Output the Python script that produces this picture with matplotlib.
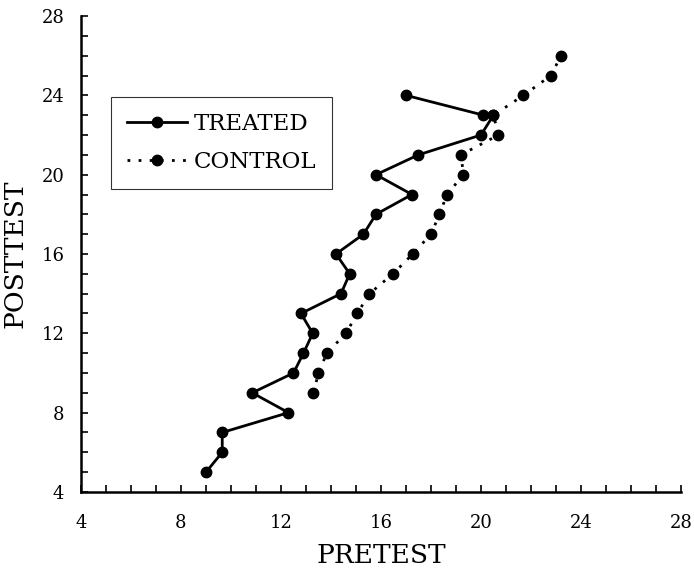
import numpy as np
import matplotlib.pyplot as plt
from matplotlib.ticker import MultipleLocator

# treated group: pretest vs posttest
treated_pre = [9.0, 9.65, 9.65, 12.3, 10.85, 12.5, 12.9, 13.27, 12.8, 14.4, 14.75,
               14.2, 15.3, 15.8, 17.24, 15.8, 17.5, 20.0, 20.5, 20.1, 17.0]
treated_post = [5, 6, 7, 8, 9, 10, 11, 12, 13, 14, 15,
                16, 17, 18, 19, 20, 21, 22, 23, 23, 24]

# control group
control_pre = [13.3, 13.5, 13.83, 14.6, 15.05, 15.54, 16.48, 17.27, 18.0, 18.34,
               18.64, 19.3, 19.2, 20.7, 20.5, 21.7, 22.8, 23.2]
control_post = [9, 10, 11, 12, 13, 14, 15, 16, 17, 18,
                19, 20, 21, 22, 23, 24, 25, 26]

ticks = [4, 8, 12, 16, 20, 24, 28]

plt.rcParams['font.family'] = 'DejaVu Serif'

fig = plt.figure(figsize=(6.94, 5.72), dpi=100)
ax = fig.add_axes([0.1167, 0.1399, 0.8645, 0.8321])

ax.plot(treated_pre, treated_post, color='black', lw=2, marker='o', ms=7.5,
        label='TREATED')
ax.plot(control_pre, control_post, color='black', lw=2, ls=(0, (1, 3)),
        marker='o', ms=7.5, label='CONTROL')

ax.set_xlim(4, 28)
ax.set_ylim(4, 28)
ax.set_xticks(ticks)
ax.set_yticks(ticks)
ax.xaxis.set_minor_locator(MultipleLocator(1))
ax.yaxis.set_minor_locator(MultipleLocator(1))
ax.tick_params(which='both', direction='in', length=5, width=1.2, labelsize=13,
               top=False, right=False)
ax.tick_params(axis='x', pad=16)
ax.tick_params(axis='y', pad=12)

for s in ['top', 'right']:
    ax.spines[s].set_visible(False)
for s in ['left', 'bottom']:
    ax.spines[s].set_linewidth(1.8)

ax.set_xlabel('PRETEST', fontsize=19, labelpad=8)
ax.set_ylabel('POSTTEST', fontsize=19, labelpad=10)

leg = ax.legend(loc='upper left', bbox_to_anchor=(0.05, 0.83), fontsize=16.5,
                frameon=True, fancybox=False, edgecolor='black', handlelength=2.6,
                borderpad=0.7, labelspacing=0.7, handletextpad=0.3,
                borderaxespad=0)
leg.get_frame().set_linewidth(0.8)

fig.savefig('out.png', dpi=100)
